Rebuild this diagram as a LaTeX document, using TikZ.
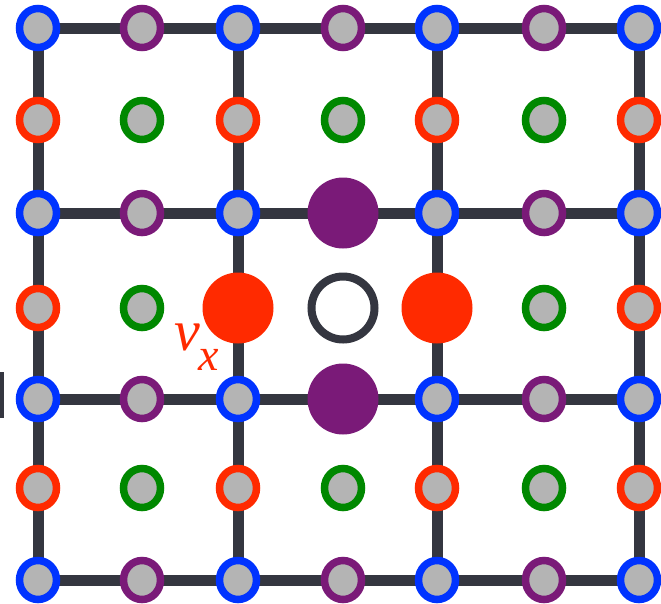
\documentclass[tikz,border=0pt]{standalone}
\usepackage{fontspec}
\usetikzlibrary{backgrounds,shapes.geometric}

\newfontfamily\labelfont{Liberation Serif}

\definecolor{ringblue}{RGB}{0,51,255}
\definecolor{ringred}{RGB}{255,42,0}
\definecolor{ringpurple}{RGB}{122,26,120}
\definecolor{ringgreen}{RGB}{0,136,0}
\definecolor{sitegray}{RGB}{180,180,180}
\definecolor{bonddark}{RGB}{52,54,64}

\tikzset{
  site/.style={ellipse, minimum width=37pt, minimum height=39pt, inner sep=0pt,
               line width=7.5pt, fill=sitegray},
  bigsite/.style={circle, minimum size=71pt, inner sep=0pt, draw=none},
  hole/.style={circle, minimum size=63pt, inner sep=0pt, line width=8pt,
               draw=bonddark, fill=white},
  bond/.style={line width=11pt, draw=bonddark},
}

\begin{document}
\begin{tikzpicture}[x=1pt, y=-1pt]
\useasboundingbox (0,0) rectangle (661,603);

% lattice positions
\foreach \i/\x in {0/38,1/142,2/238,3/343,4/437,5/544,6/639}{
  \foreach \j/\y in {0/28,1/120,2/213,3/308,4/399,5/488,6/580}{
    \coordinate (p\i\j) at (\x,\y);
  }
}

% ordinary sites: vertices blue, horizontal links purple,
% vertical links red, plaquette centres green
\foreach \i in {0,...,6}{
  \foreach \j in {0,...,6}{
    \def\skipsite{0}
    \ifnum\i=3 \ifnum\j>1 \ifnum\j<5 \def\skipsite{1}\fi\fi\fi
    \ifnum\j=3 \ifnum\i>1 \ifnum\i<5 \def\skipsite{1}\fi\fi\fi
    \ifnum\skipsite=0
      \ifodd\i
        \ifodd\j \def\rc{ringgreen}\else \def\rc{ringpurple}\fi
      \else
        \ifodd\j \def\rc{ringred}\else \def\rc{ringblue}\fi
      \fi
      \node[site, draw=\rc] (s\i\j) at (p\i\j) {};
    \fi
  }
}

% central plaquette and its four links
\node[hole] (c33) at (p33) {};
\node[bigsite, fill=ringpurple] (b32) at (p32) {};
\node[bigsite, fill=ringpurple] (b34) at (p34) {};
\node[bigsite, fill=ringred] (b23) at (p23) {};
\node[bigsite, fill=ringred] (b43) at (p43) {};

% bonds of the square lattice
\begin{pgfonlayer}{background}
  \foreach \k in {0,2,4,6}{
    \draw[bond] (s0\k.center) -- (s6\k.center);
    \draw[bond] (s\k0.center) -- (s\k6.center);
  }
  \fill[bonddark] (0,372) rectangle (4,418);
\end{pgfonlayer}

% label
\node[text=ringred, anchor=base west, inner sep=0pt] (vx) at (174,350)
  {\labelfont\itshape\fontsize{58}{58}\selectfont v\kern-1pt%
   \raisebox{-20pt}{\fontsize{46}{46}\selectfont x}};
\end{tikzpicture}
\end{document}
